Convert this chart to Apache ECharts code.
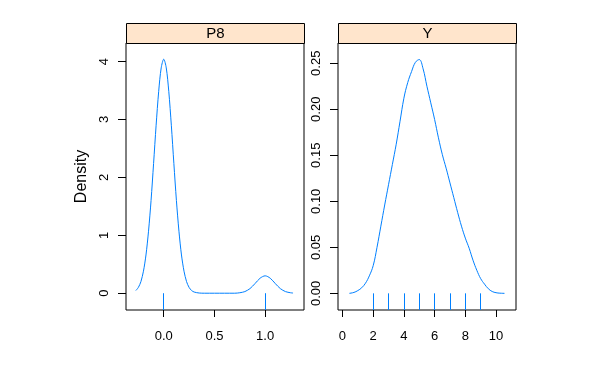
<!DOCTYPE html>
<html>
<head>
<meta charset="utf-8">
<script src="https://cdn.jsdelivr.net/npm/echarts@6/dist/echarts.min.js"></script>
<style>html,body{margin:0;padding:0;background:#fff}#c{width:596px;height:368px}</style>
</head>
<body>
<div id="c"></div>
<script>
// Panel titles
var panelNames = ['P8', 'Y'];

// P8 density curve (x, density)
var p8X = [-0.275,-0.25,-0.225,-0.2,-0.175,-0.15,-0.125,-0.1,-0.075,-0.05,-0.025,0,0.025,0.05,0.075,0.1,0.125,0.15,0.175,0.2,0.225,0.25,0.275,0.3,0.35,0.4,0.5,0.6,0.7,0.75,0.8,0.85,0.9,0.95,1.0,1.05,1.1,1.15,1.2,1.25,1.275];
var p8D = [0.046,0.10,0.20,0.38,0.66,1.07,1.60,2.24,2.90,3.48,3.89,4.04,3.89,3.48,2.90,2.24,1.60,1.07,0.66,0.38,0.20,0.10,0.046,0.02,0.003,0,0,0,0,0.008,0.028,0.079,0.166,0.259,0.30,0.259,0.166,0.079,0.028,0.008,0.003];
var p8Rug = [0, 1];

// Y density curve
var yX = [0.45,0.75,1.0,1.25,1.5,1.75,2.0,2.25,2.5,2.75,3.0,3.25,3.5,3.75,4.0,4.25,4.5,4.75,5.0,5.25,5.5,5.75,6.0,6.25,6.5,6.75,7.0,7.25,7.5,7.75,8.0,8.25,8.5,8.75,9.0,9.25,9.5,9.75,10.0,10.25,10.55];
var yD = [0.0,0.001,0.003,0.006,0.011,0.019,0.030,0.050,0.073,0.096,0.118,0.140,0.162,0.187,0.212,0.229,0.241,0.251,0.254,0.244,0.225,0.207,0.189,0.169,0.151,0.136,0.120,0.104,0.088,0.073,0.060,0.049,0.036,0.025,0.016,0.010,0.005,0.002,0.0007,0.0002,0];
var yRug = [2, 3, 4, 5, 6, 7, 8, 9];

// Tick values
var p8XTicks = [0, 0.5, 1.0];
var p8YTicks = [0, 1, 2, 3, 4];
var yXTicks = [0, 2, 4, 6, 8, 10];
var yYTicks = [0, 0.05, 0.10, 0.15, 0.20, 0.25];

var lineColor = '#0080ff';
var font = 'Liberation Sans, Arial, sans-serif';

function pairs(xs, ys) { return xs.map(function (x, i) { return [x, ys[i]]; }); }
function rugData(xs, lo) { return xs.map(function (x) { return { coords: [[x, lo], [x, 0]] }; }); }

var grids = [
  { left: 126, top: 43, width: 178, height: 267 },
  { left: 338, top: 43, width: 178, height: 267 }
];
var ranges = [
  { xmin: -0.372, xmax: 1.383, ymin: -0.29, ymax: 4.32, xt: p8XTicks, yt: p8YTicks, xd: 1, yd: 0 },
  { xmin: -0.29, xmax: 11.3, ymin: -0.0181, ymax: 0.272, xt: yXTicks, yt: yYTicks, xd: 0, yd: 2 }
];

var option = {
  animation: false,
  backgroundColor: '#fff',
  grid: grids.map(function (g) {
    return Object.assign({ show: true, borderColor: '#000', borderWidth: 1, backgroundColor: 'transparent', containLabel: false }, g);
  }),
  xAxis: ranges.map(function (r, i) {
    return {
      type: 'value', gridIndex: i, min: r.xmin, max: r.xmax, position: 'bottom',
      axisLine: { show: false, onZero: false },
      splitLine: { show: false },
      axisTick: { show: true, inside: false, length: 7, lineStyle: { color: '#000' }, customValues: r.xt },
      axisLabel: { show: true, margin: 20, color: '#000', fontSize: 13, fontFamily: font, customValues: r.xt,
        formatter: function (v) { return Number(v).toFixed(r.xd); } }
    };
  }),
  yAxis: ranges.map(function (r, i) {
    return {
      type: 'value', gridIndex: i, min: r.ymin, max: r.ymax, position: 'left',
      name: i === 0 ? 'Density' : '',
      nameLocation: 'middle', nameGap: 36, nameRotate: 90,
      nameTextStyle: { color: '#000', fontSize: 16, fontFamily: font },
      axisLine: { show: false, onZero: false },
      splitLine: { show: false },
      axisTick: { show: true, inside: false, length: 8, lineStyle: { color: '#000' }, customValues: r.yt },
      axisLabel: { show: true, rotate: 90, margin: 15, color: '#000', fontSize: 13, fontFamily: font, customValues: r.yt,
        formatter: function (v) { return Number(v).toFixed(r.yd); } }
    };
  }),
  series: [
    { type: 'line', xAxisIndex: 0, yAxisIndex: 0, data: pairs(p8X, p8D), smooth: 0.3, showSymbol: false,
      lineStyle: { color: lineColor, width: 1 } },
    { type: 'lines', coordinateSystem: 'cartesian2d', xAxisIndex: 0, yAxisIndex: 0, data: rugData(p8Rug, ranges[0].ymin),
      lineStyle: { color: lineColor, width: 1, opacity: 1 } },
    { type: 'line', xAxisIndex: 1, yAxisIndex: 1, data: pairs(yX, yD), smooth: 0.4, showSymbol: false,
      lineStyle: { color: lineColor, width: 1 } },
    { type: 'lines', coordinateSystem: 'cartesian2d', xAxisIndex: 1, yAxisIndex: 1, data: rugData(yRug, ranges[1].ymin),
      lineStyle: { color: lineColor, width: 1, opacity: 1 } }
  ],
  graphic: grids.map(function (g, i) {
    return {
      type: 'group', left: g.left, top: 23,
      children: [
        { type: 'rect', shape: { x: 0, y: 0, width: g.width, height: 20 },
          style: { fill: '#ffe5cc', stroke: '#000', lineWidth: 1 } },
        { type: 'text', x: g.width / 2, y: 10,
          style: { text: panelNames[i], fill: '#000', font: '15px ' + font, align: 'center', verticalAlign: 'middle' } }
      ]
    };
  })
};

var chart = echarts.init(document.getElementById('c'), null, { renderer: 'canvas' });
chart.setOption(option);
</script>
</body>
</html>
